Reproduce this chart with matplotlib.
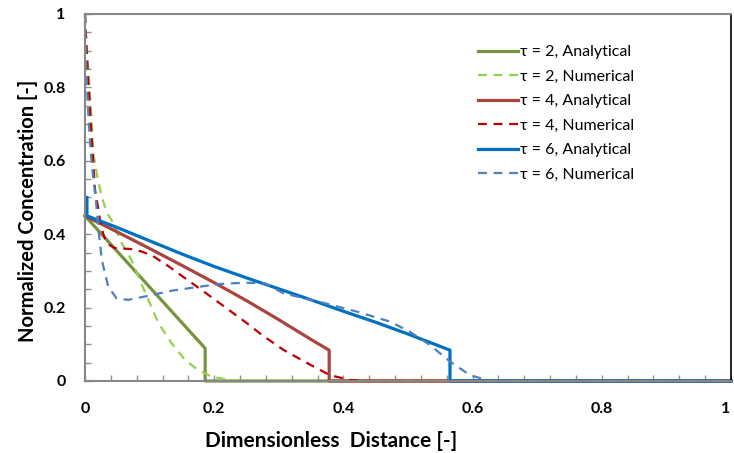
import matplotlib
matplotlib.use("Agg")
import matplotlib.pyplot as plt
import matplotlib.transforms as mtransforms
from matplotlib.ticker import MultipleLocator

plt.rcParams['font.family'] = ['Lato', 'DejaVu Sans']

# tau = 2
x_a2 = [0.0, 0.186, 0.186, 1.0]
y_a2 = [0.45, 0.089, 0.0, 0.0]
x_n2 = [0.0, 0.002, 0.005, 0.009, 0.013, 0.019, 0.026, 0.034, 0.041, 0.057, 0.072, 0.085,
        0.098, 0.114, 0.134, 0.155, 0.175, 0.196, 0.222, 0.25, 1.0]
y_n2 = [1.0, 0.93, 0.85, 0.747, 0.62, 0.557, 0.502, 0.457, 0.439, 0.375, 0.33, 0.275,
        0.221, 0.157, 0.103, 0.057, 0.030, 0.012, 0.003, 0.0, 0.0]

# tau = 4
x_a4 = [0.0, 0.05, 0.1, 0.15, 0.2, 0.25, 0.3, 0.35, 0.378, 0.378, 1.0]
y_a4 = [0.45, 0.406, 0.361, 0.315, 0.268, 0.219, 0.167, 0.113, 0.084, 0.0, 0.0]
x_n4 = [0.0, 0.002, 0.005, 0.009, 0.0155, 0.021, 0.023, 0.028, 0.034, 0.046, 0.077, 0.103,
        0.129, 0.155, 0.186, 0.217, 0.248, 0.275, 0.307, 0.348, 0.379, 0.41, 0.436, 1.0]
y_n4 = [1.0, 0.92, 0.82, 0.70, 0.52, 0.466, 0.44, 0.402, 0.375, 0.362, 0.359, 0.343,
        0.313, 0.280, 0.241, 0.201, 0.161, 0.124, 0.085, 0.045, 0.016, 0.003, 0.0, 0.0]

# tau = 6
x_a6 = [0.003, 0.003, 0.05, 0.1, 0.15, 0.2, 0.25, 0.3, 0.35, 0.4, 0.45, 0.5, 0.565, 0.565, 1.0]
y_a6 = [0.5, 0.45, 0.418, 0.382, 0.346, 0.312, 0.281, 0.251, 0.221, 0.19, 0.16, 0.128, 0.084, 0.0, 0.0]
x_n6 = [0.0, 0.001, 0.003, 0.006, 0.009, 0.013, 0.017, 0.021, 0.026, 0.036, 0.049, 0.067,
        0.103, 0.134, 0.17, 0.206, 0.248, 0.279, 0.307, 0.369, 0.421, 0.472, 0.503, 0.534,
        0.565, 0.596, 0.627, 1.0]
y_n6 = [1.0, 0.9, 0.8, 0.7, 0.62, 0.55, 0.49, 0.41, 0.33, 0.257, 0.225, 0.221,
        0.234, 0.246, 0.255, 0.264, 0.268, 0.266, 0.239, 0.213, 0.189, 0.162, 0.134, 0.098,
        0.053, 0.016, 0.0, 0.0]

tick_vals = [0, 0.2, 0.4, 0.6, 0.8, 1.0]
tick_text = ['0', '0.2', '0.4', '0.6', '0.8', '1']

fig = plt.figure(figsize=(7.34, 4.53), dpi=100)
ax = fig.add_axes([85/734, 72/453, 646/734, 367/453])

dash = (0, (4, 3))
ax.plot(x_a2, y_a2, color='#77933C', lw=2.3, label='τ = 2, Analytical', clip_on=False)
ax.plot(x_n2, y_n2, color='#92D050', lw=1.6, ls=dash, label='τ = 2, Numerical', clip_on=False)
ax.plot(x_a4, y_a4, color='#A9443F', lw=2.3, label='τ = 4, Analytical', clip_on=False)
ax.plot(x_n4, y_n4, color='#C00000', lw=1.6, ls=dash, label='τ = 4, Numerical', clip_on=False)
ax.plot(x_a6, y_a6, color='#0070C0', lw=2.3, label='τ = 6, Analytical', clip_on=False)
ax.plot(x_n6, y_n6, color='#4F81BD', lw=1.6, ls=dash, label='τ = 6, Numerical', clip_on=False)

ax.set_xlim(0, 1)
ax.set_ylim(0, 1)
ax.set_xticks(tick_vals)
ax.set_yticks(tick_vals)
ax.set_xticklabels(tick_text)
ax.set_yticklabels(tick_text)
ax.xaxis.set_minor_locator(MultipleLocator(0.04))
ax.yaxis.set_minor_locator(MultipleLocator(0.05))

ax.tick_params(which='both', direction='in', length=4, width=1, color='#909090',
               labelsize=11.5)
ax.tick_params(axis='x', pad=15)
ax.tick_params(axis='y', pad=14)
for lab in ax.get_xticklabels() + ax.get_yticklabels():
    lab.set_fontweight('bold')

# last x label sits on the figure edge; nudge it in so it is not cut
last = ax.get_xticklabels()[-1]
last.set_transform(last.get_transform() +
                   mtransforms.ScaledTranslation(-5/100, 0, fig.dpi_scale_trans))

for s in ['left', 'bottom', 'top']:
    ax.spines[s].set_color('#868686')
    ax.spines[s].set_linewidth(1.5)
ax.spines['right'].set_color('black')
ax.spines['right'].set_linewidth(1.2)

ax.set_xlabel('Dimensionless  Distance [-]', fontsize=15, fontweight='bold')
ax.xaxis.set_label_coords((331 - 85) / 646, -(441 - 381) / 367)
ax.xaxis.label.set_va('center')
ax.set_ylabel('Normalized Concentration [-]', fontsize=14.5, fontweight='bold')
ax.yaxis.set_label_coords(-(85 - 28) / 646, (381 - 211) / 367)
ax.yaxis.label.set_va('center')

ax.legend(loc='upper left', bbox_to_anchor=(478/734, 1 - 45/453),
          bbox_transform=fig.transFigure, frameon=False, fontsize=11.5,
          handlelength=2.5, handletextpad=0.1, labelspacing=0.65, borderpad=0,
          borderaxespad=0)

fig.savefig('out.png', dpi=100)
